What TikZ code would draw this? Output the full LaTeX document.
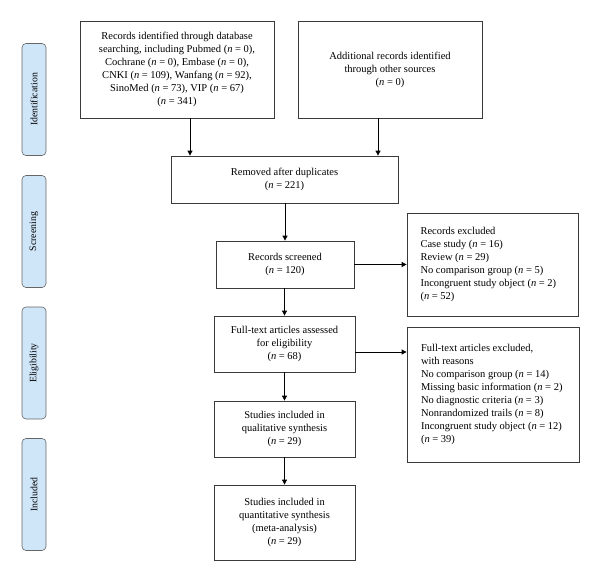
\documentclass[tikz,border=0pt]{standalone}
\usepackage{fontspec}
\setmainfont{Liberation Serif}
\usetikzlibrary{arrows.meta}
\definecolor{sidefill}{HTML}{CFE5F8}
\definecolor{edge}{HTML}{3A3A3A}
\newcommand{\nn}{\textit{n}}
\tikzset{
  box/.style={draw=edge, line width=0.8pt, fill=white, align=center, inner sep=2pt,
    font=\fontsize{10.5}{13}\selectfont},
  side/.style={draw=gray!80!black, line width=0.6pt, fill=sidefill, rounded corners=4pt,
    minimum width=112pt, minimum height=24pt, rotate=90, font=\fontsize{9.8}{11}\selectfont},
  arr/.style={draw=black, line width=0.8pt, -{Triangle[width=5pt,length=5pt]}}
}
\begin{document}
\begin{tikzpicture}[x=1pt,y=-1pt]
\useasboundingbox (0,0) rectangle (600,582);
% side labels
\node[side] (s1) at (34,99.5) {Identification};
\node[side] (s2) at (34,231.5) {Screening};
\node[side] (s3) at (34,363) {Eligibility};
\node[side] (s4) at (34,494.5) {Included};
% boxes
\node[box, minimum width=194pt, minimum height=97pt] (b1) at (177,69.5)
 {Records identified through database\\searching, including Pubmed (\nn{} = 0),\\Cochrane (\nn{} = 0), Embase (\nn{} = 0),\\CNKI (\nn{} = 109), Wanfang (\nn{} = 92),\\SinoMed (\nn{} = 73), VIP (\nn{} = 67)\\(\nn{} = 341)};
\node[box, minimum width=184pt, minimum height=97pt] (b2) at (390,69.5)
 {Additional records identified\\through other sources\\(\nn{} = 0)};
\node[box, minimum width=227pt, minimum height=47pt] (b3) at (284.5,179.5)
 {Removed after duplicates\\(\nn{} = 221)};
\node[box, minimum width=138pt, minimum height=47pt] (b4) at (285,264.5)
 {Records screened\\(\nn{} = 120)};
\node[box, minimum width=171pt, minimum height=103pt, align=left] (b5) at (492.5,264.5)
 {\hspace*{6pt}\begin{minipage}{150pt}Records excluded\\Case study (\nn{} = 16)\\Review (\nn{} = 29)\\No comparison group (\nn{} = 5)\\Incongruent study object (\nn{} = 2)\\(\nn{} = 52)\end{minipage}};
\node[box, minimum width=172pt, minimum height=135pt, align=left] (b7) at (493,394.5)
 {\hspace*{6pt}\begin{minipage}{150pt}Full-text articles excluded,\\with reasons\\No comparison group (\nn{} = 14)\\Missing basic information (\nn{} = 2)\\No diagnostic criteria (\nn{} = 3)\\Nonrandomized trails (\nn{} = 8)\\Incongruent study object (\nn{} = 12)\\(\nn{} = 39)\end{minipage}};
\node[box, minimum width=141pt, minimum height=56pt] (b6) at (284.5,344)
 {Full-text articles assessed\\for eligibility\\(\nn{} = 68)};
\node[box, minimum width=141pt, minimum height=56pt] (b8) at (284.5,429)
 {Studies included in\\qualitative synthesis\\(\nn{} = 29)};
\node[box, minimum width=141pt, minimum height=75pt] (b9) at (284.5,522.5)
 {Studies included in\\quantitative synthesis\\(meta-analysis)\\(\nn{} = 29)};
% connectors
\coordinate (a1) at ([xshift=13pt]b1.south);
\coordinate (a2) at ([xshift=-12pt]b2.south);
\draw[arr] (a1) -- (a1 |- b3.north);
\draw[arr] (a2) -- (a2 |- b3.north);
\draw[arr] (b3.south -| b4.north) -- (b4.north);
\draw[arr] (b4.east) -- (b4.east -| b5.west);
\draw[arr] (b4.south -| b6.north) -- (b6.north);
\coordinate (a6) at ([yshift=-8pt]b6.east);
\draw[arr] (a6) -- (a6 -| b7.west);
\draw[arr] (b6.south) -- (b8.north);
\draw[arr] (b8.south) -- (b9.north);
\end{tikzpicture}
\end{document}
